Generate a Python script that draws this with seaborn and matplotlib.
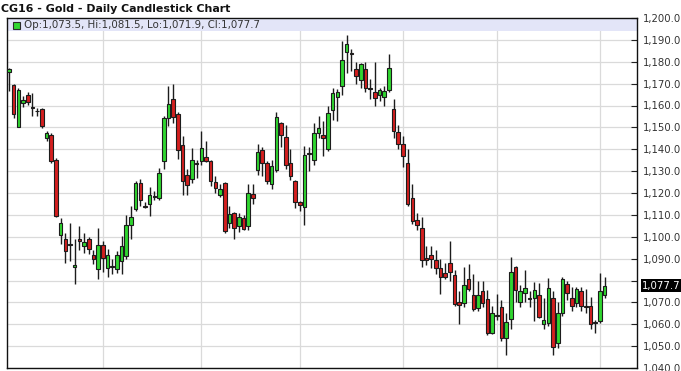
import numpy as np
import pandas as pd
import matplotlib
matplotlib.use("Agg")
import matplotlib.pyplot as plt
from matplotlib.ticker import FuncFormatter, MultipleLocator
from matplotlib.patches import Rectangle
from matplotlib.transforms import blended_transform_factory
import seaborn as sns

title = "CG16 - Gold - Daily Candlestick Chart"
legend_text = "Op:1,073.5, Hi:1,081.5, Lo:1,071.9, Cl:1,077.7"
last_label = "1,077.7"
last_close = 1077.7
hidden_tick = 1080  # covered by the last-price tag in the original

opens = [1175.5, 1169.5, 1150.2, 1161.2, 1165.0, 1159.1, 1157.6, 1158.5, 1145.2, 1146.6,
         1135.3, 1100.6, 1099.1, 1096.6, 1086.3, 1099.1, 1095.7, 1099.1, 1091.8, 1085.4,
         1096.4, 1085.8, 1086.8, 1085.4, 1088.9, 1091.1, 1105.3, 1112.8, 1124.7, 1114.2,
         1115.2, 1118.5, 1117.8, 1134.8, 1154.3, 1163.0, 1156.3, 1142.0, 1128.4, 1126.5,
         1133.7, 1134.8, 1136.5, 1134.8, 1125.1, 1119.3, 1124.7, 1106.1, 1111.0, 1104.9,
         1108.7, 1104.9, 1119.6, 1130.4, 1139.8, 1133.8, 1123.9, 1130.7, 1152.1, 1145.7,
         1133.8, 1125.4, 1115.8, 1113.7, 1138.2, 1135.0, 1147.5, 1146.3, 1140.2, 1157.8,
         1164.0, 1168.8, 1184.5, 1184.1, 1176.7, 1171.8, 1176.6, 1167.8, 1166.2, 1165.0,
         1163.9, 1167.0, 1158.4, 1147.8, 1142.5, 1133.8, 1117.8, 1107.6, 1104.1, 1090.4,
         1091.6, 1089.4, 1085.9, 1083.6, 1088.2, 1082.5, 1070.3, 1069.9, 1080.5, 1073.2,
         1067.4, 1075.0, 1071.7, 1056.2, 1064.3, 1068.0, 1053.9, 1062.3, 1086.2, 1070.2,
         1074.4, 1072.0, 1071.8, 1073.3, 1060.0, 1060.4, 1072.1, 1051.6, 1065.3, 1078.2,
         1072.1, 1069.9, 1075.4, 1068.2, 1068.3, 1061.0, 1061.5, 1073.5]
highs = [1177.0, 1170.0, 1168.0, 1164.5, 1166.0, 1165.8, 1159.0, 1159.0, 1148.5, 1147.5,
         1136.0, 1108.7, 1101.8, 1106.4, 1098.8, 1105.0, 1101.8, 1100.0, 1094.0, 1104.0,
         1098.0, 1094.4, 1090.0, 1093.5, 1100.3, 1110.0, 1114.0, 1125.7, 1126.2, 1116.0,
         1122.8, 1121.0, 1131.5, 1155.0, 1168.8, 1170.0, 1157.0, 1146.0, 1131.0, 1140.6,
         1135.0, 1148.2, 1144.0, 1135.3, 1128.0, 1124.0, 1125.0, 1114.0, 1111.5, 1111.0,
         1110.0, 1124.3, 1124.0, 1142.2, 1141.0, 1134.5, 1135.0, 1156.9, 1152.5, 1151.0,
         1140.0, 1126.0, 1116.5, 1141.7, 1141.0, 1152.1, 1155.0, 1152.8, 1160.0, 1168.0,
         1167.5, 1189.3, 1192.4, 1186.0, 1180.0, 1179.5, 1180.0, 1172.0, 1180.0, 1168.0,
         1169.0, 1183.7, 1163.0, 1151.0, 1146.0, 1140.0, 1124.0, 1111.0, 1109.0, 1096.0,
         1096.0, 1094.0, 1089.7, 1088.0, 1098.0, 1085.0, 1075.0, 1086.0, 1087.4, 1083.0,
         1080.0, 1080.0, 1075.5, 1068.3, 1074.0, 1071.0, 1065.0, 1090.7, 1086.5, 1078.0,
         1085.0, 1075.0, 1079.4, 1079.0, 1072.0, 1081.0, 1075.0, 1070.0, 1081.5, 1080.0,
         1077.0, 1077.0, 1077.0, 1076.0, 1072.5, 1062.0, 1083.3, 1081.5]
lows = [1166.5, 1154.3, 1150.0, 1159.5, 1160.4, 1155.1, 1155.0, 1149.8, 1144.0, 1133.5,
        1109.0, 1096.5, 1088.1, 1088.9, 1078.2, 1094.0, 1092.6, 1092.0, 1087.6, 1080.9,
        1084.0, 1081.8, 1083.0, 1083.5, 1082.8, 1090.0, 1098.8, 1112.0, 1114.0, 1113.0,
        1109.7, 1117.0, 1117.0, 1131.0, 1150.5, 1152.0, 1135.5, 1119.3, 1119.0, 1124.7,
        1127.0, 1133.0, 1134.0, 1123.0, 1120.0, 1118.0, 1101.5, 1104.0, 1098.8, 1102.0,
        1103.0, 1103.0, 1115.0, 1128.4, 1128.0, 1123.9, 1122.0, 1129.5, 1141.1, 1131.0,
        1126.0, 1113.2, 1112.0, 1105.6, 1130.0, 1133.0, 1145.0, 1136.8, 1139.0, 1153.5,
        1153.0, 1164.7, 1174.9, 1176.0, 1170.0, 1168.0, 1166.0, 1163.0, 1159.6, 1162.0,
        1160.0, 1166.0, 1145.0, 1140.0, 1132.0, 1114.0, 1106.0, 1103.0, 1086.0, 1087.0,
        1085.5, 1083.0, 1073.7, 1080.5, 1080.0, 1068.5, 1060.0, 1068.0, 1075.0, 1066.0,
        1066.0, 1068.0, 1055.0, 1055.5, 1062.0, 1052.3, 1046.0, 1058.0, 1070.0, 1068.0,
        1070.0, 1068.0, 1061.5, 1063.0, 1058.0, 1059.0, 1046.0, 1049.0, 1064.0, 1071.0,
        1066.0, 1068.0, 1066.0, 1065.0, 1058.0, 1056.0, 1060.5, 1071.9]
closes = [1176.5, 1156.2, 1167.1, 1162.4, 1161.6, 1158.9, 1157.3, 1150.5, 1147.5, 1134.5,
          1109.4, 1106.1, 1093.4, 1096.2, 1087.2, 1098.2, 1097.8, 1094.5, 1090.0, 1096.4,
          1090.4, 1091.8, 1086.4, 1091.5, 1095.7, 1105.6, 1109.0, 1124.7, 1117.0, 1113.8,
          1119.3, 1118.1, 1129.2, 1154.3, 1160.9, 1154.8, 1139.5, 1125.4, 1123.6, 1135.3,
          1133.3, 1140.6, 1134.5, 1125.4, 1122.4, 1121.9, 1102.6, 1110.2, 1104.1, 1109.0,
          1103.7, 1120.1, 1117.8, 1138.6, 1133.8, 1125.4, 1132.2, 1154.6, 1146.7, 1132.6,
          1127.7, 1115.8, 1114.4, 1137.3, 1137.8, 1147.2, 1149.8, 1145.2, 1156.6, 1165.8,
          1166.3, 1180.8, 1188.3, 1183.7, 1173.3, 1179.0, 1168.0, 1167.4, 1163.5, 1167.0,
          1166.5, 1177.0, 1148.2, 1142.6, 1136.8, 1115.0, 1107.1, 1105.3, 1089.2, 1089.2,
          1089.7, 1085.9, 1081.8, 1081.8, 1083.9, 1069.1, 1068.6, 1077.9, 1076.2, 1066.8,
          1073.5, 1069.9, 1056.2, 1065.3, 1063.9, 1053.9, 1061.0, 1084.1, 1075.6, 1075.2,
          1076.7, 1071.6, 1075.6, 1063.5, 1062.0, 1076.7, 1049.7, 1065.3, 1080.9, 1074.4,
          1068.3, 1076.3, 1068.3, 1067.8, 1060.0, 1060.6, 1075.2, 1077.7]

# session indices where the chart draws its vertical (period) grid lines
period_marks = [20, 41, 62, 84, 104, 126]

df = pd.DataFrame({"open": opens, "high": highs, "low": lows, "close": closes})
df["idx"] = np.arange(len(df))
df["up"] = df["close"] >= df["open"]
df["bottom"] = df[["open", "close"]].min(axis=1)
df["height"] = (df["close"] - df["open"]).abs().clip(lower=0.35)

sns.set_style("white")
plt.rcParams["font.family"] = ["DejaVu Sans"]

W, H = 681, 371
fig = plt.figure(figsize=(W / 100, H / 100), dpi=100)
ax = fig.add_axes([7 / W, 3 / H, 630 / W, 350 / H])

GREEN = "#30d630"
RED = "#d41f1f"
EDGE = "#1c1c1c"

# grid
for v in np.arange(1040, 1201, 10):
    ax.axhline(v, color="#dadada", lw=0.9, zorder=0)
for m in period_marks:
    ax.axvline(m, color="#dadada", lw=0.9, zorder=0)

# legend band
ax.add_patch(Rectangle((0, 1 - 13 / 350), 1, 13 / 350, transform=ax.transAxes,
                       facecolor="#e3e5f8", edgecolor="none", zorder=0.5))

# wicks
ax.vlines(df["idx"], df["low"], df["high"], color=EDGE, lw=1.0, zorder=2)
# bodies
colors = np.where(df["up"], GREEN, RED)
ax.bar(df["idx"], df["height"], bottom=df["bottom"], width=0.76,
       color=colors, edgecolor=EDGE, linewidth=0.8, zorder=3)

ax.set_xlim(-0.43, 133.9)
ax.set_ylim(1040, 1200)

ax.yaxis.tick_right()
ax.yaxis.set_major_locator(MultipleLocator(10))
ax.yaxis.set_major_formatter(
    FuncFormatter(lambda v, p: "" if abs(v - hidden_tick) < 1e-6 else f"{v:,.1f}"))
ax.tick_params(axis="y", direction="in", length=4, width=0.8, pad=4,
               labelsize=7.3, labelcolor="#333333", color="#222222")
ax.tick_params(axis="x", bottom=False, labelbottom=False)
for s in ax.spines.values():
    s.set_visible(True)
    s.set_color("#111111")
    s.set_linewidth(1.0)

# title
fig.text(1 / W, 1 - 9.5 / H, title, ha="left", va="center",
         fontsize=7.9, fontweight="bold", color="#111111")

# legend swatch and text
fig.patches.append(Rectangle((13 / W, 1 - 29 / H), 7 / W, 7 / H, transform=fig.transFigure,
                             facecolor=GREEN, edgecolor="#2a2a2a", linewidth=0.8, zorder=5))
fig.text(24 / W, 1 - 25.5 / H, legend_text, ha="left", va="center",
         fontsize=7.35, color="#333333")

# last price tag
tr = blended_transform_factory(ax.transAxes, ax.transData)
ax.text(1 + 5 / 630, last_close, last_label, transform=tr, ha="left", va="center",
        fontsize=7.3, color="white", clip_on=False, zorder=10,
        bbox=dict(boxstyle="square,pad=0.12", facecolor="black", edgecolor="none"))

fig.savefig("out.png", dpi=100, facecolor="white")
